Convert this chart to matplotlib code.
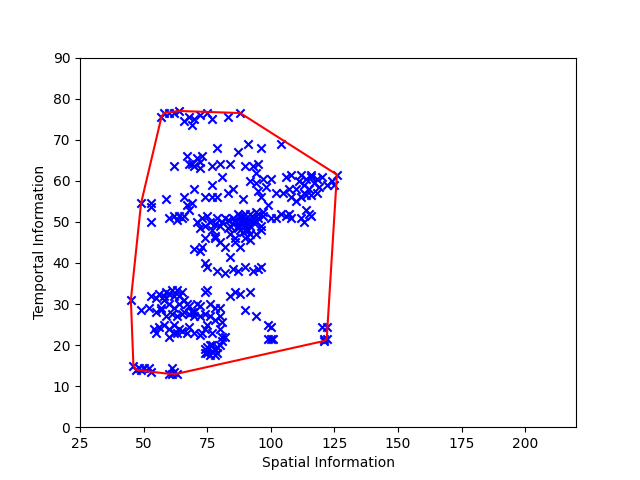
import numpy as np
import matplotlib
matplotlib.use("Agg")
import matplotlib.pyplot as plt

# -------- data --------
spatial = [
    57, 58, 60, 62, 64, 66, 68, 69, 70, 72, 75, 77, 83, 88,
    62, 67, 68, 70, 71, 72, 72, 69, 73, 77, 80, 79, 81, 84, 87, 90, 91, 93, 94, 95, 96,
    92, 94, 97, 100, 104, 98, 95, 96, 77, 70, 66, 59, 74, 77, 79, 83, 85, 89,
    49, 53, 53, 53, 60, 62, 64, 65, 63, 66, 68, 67, 69, 71, 72, 73, 74, 75, 76, 77, 78,
    79, 80, 81, 82, 83, 84, 85, 86, 87, 88, 89, 90, 91, 92, 93, 94, 95, 96, 97, 99, 100, 102,
    84, 86, 88, 90, 92, 94, 96, 78, 80, 74, 72, 70, 73, 74, 75, 78, 82, 84, 86, 88,
    85, 87, 90, 95, 96, 93, 82, 79,
    86, 87, 88, 89, 90, 91, 92, 93, 94, 89, 90, 91, 92, 87, 85, 83, 95, 97,
    106, 108, 111, 112, 113, 114, 115, 116, 117, 118, 119, 120, 122, 124, 126, 125,
    118, 116, 113, 110, 107, 105, 108, 110, 112, 114, 102, 104, 106, 107, 108, 112,
    114, 115, 116, 113, 116,
    45, 49, 52, 53, 55, 56, 58, 58, 59, 60, 61, 62, 63, 64, 65, 57, 60, 62, 64, 66, 67,
    68, 69, 70, 71, 72, 74, 75, 76, 78, 80, 55, 57, 59, 61, 63, 65, 66, 68, 70, 72, 74,
    76, 78, 80, 81, 54, 56, 58, 60, 62, 63, 64, 65, 67, 68, 70, 72, 73, 74, 75, 77, 80,
    60, 62, 81, 81, 90, 92, 94, 88, 86, 84, 82, 55,
    46, 47, 48, 50, 52, 53, 49, 61, 61, 60, 62, 63,
    74, 75, 76, 77, 78, 79, 76, 74, 78, 75, 77, 79, 80,
    99, 100, 100, 101, 99, 120, 121, 122, 122, 121,
]
temporal = [
    75.5, 76.5, 76.5, 76.5, 77, 74.5, 75.5, 73.5, 75, 76, 76.5, 75, 75.5, 76.5,
    63.5, 66, 64, 63.5, 65.5, 64.5, 63, 64, 66, 63.5, 64, 68, 61, 64, 67, 63.5, 69, 63.5, 62, 64, 68,
    60, 59.5, 60.5, 60.5, 69, 58.5, 57.5, 56, 59, 58, 56, 55.5, 56, 56, 56, 57, 58, 55.5,
    54.5, 54.5, 53.5, 50, 51, 51.5, 51.5, 51, 50.5, 51.5, 53, 54, 54.5, 50, 48.5, 51, 49, 51.5, 50, 48, 49.5,
    51, 49, 50, 51, 50.5, 49, 51, 50, 49, 51.5, 50, 49, 48, 52, 50, 52.5, 51, 49, 52.5, 54, 51, 51,
    47, 46, 48, 46, 45.5, 47, 48, 46, 45, 46, 43, 43.5, 44, 40, 39, 46.5, 44, 41.5, 45, 44,
    38.5, 38, 39, 38.5, 39, 38, 37.5, 38,
    50.5, 48.5, 50, 51.5, 52, 50.5, 49, 51, 50, 47.5, 48, 49.5, 47, 52, 49.5, 48.5, 52, 51.5,
    61, 61.5, 60, 61.5, 59, 60.5, 58, 61, 59.5, 60.5, 58.5, 61, 59, 60, 61.5, 59,
    57, 56.5, 57, 58, 58, 57, 56, 55, 56, 56.5, 57, 52, 51.5, 52, 51, 51,
    53, 52, 51.5, 50, 61.5,
    31, 28.5, 29, 32, 31.5, 32.5, 31, 32, 33, 32.5, 33.5, 32, 33.5, 32, 33, 29, 30, 29, 30, 31, 30,
    29.5, 28, 28, 30, 29.5, 33, 33.5, 30, 29, 29, 28, 28.5, 27, 27.5, 27, 27.5, 28, 27.5, 27, 27, 27.5,
    27, 26, 27, 25.5, 24, 24.5, 25, 24, 25, 23, 24, 23.5, 23, 24.5, 23, 22.5, 23, 24, 25, 23, 24,
    22, 23, 22, 21, 28.5, 33, 27, 32.5, 33, 32, 22, 23,
    15, 14, 14.5, 14.5, 14.5, 13.5, 14, 14.5, 13, 13, 13.5, 13,
    18, 19.5, 17.5, 18.5, 19, 18, 20, 19, 17.5, 18, 20, 19.5, 20,
    25, 24.5, 21.5, 21.5, 21.5, 24.5, 21.5, 24.5, 21.5, 21,
]


def convex_hull(xs, ys):
    pts = sorted(set(zip(xs, ys)))

    def cross(o, a, b):
        return (a[0] - o[0]) * (b[1] - o[1]) - (a[1] - o[1]) * (b[0] - o[0])

    lower, upper = [], []
    for p in pts:
        while len(lower) >= 2 and cross(lower[-2], lower[-1], p) <= 0:
            lower.pop()
        lower.append(p)
    for p in reversed(pts):
        while len(upper) >= 2 and cross(upper[-2], upper[-1], p) <= 0:
            upper.pop()
        upper.append(p)
    hull = lower[:-1] + upper[:-1]
    return hull + [hull[0]]


hull = np.array(convex_hull(spatial, temporal))

fig, ax = plt.subplots(figsize=(6.4, 4.8), dpi=100)
ax.scatter(spatial, temporal, marker='x', color='blue')
ax.plot(hull[:, 0], hull[:, 1], color='red')
ax.set_xlim(25, 220)
ax.set_ylim(0, 90)
ax.set_xticks([25, 50, 75, 100, 125, 150, 175, 200])
ax.set_xlabel('Spatial Information')
ax.set_ylabel('Temportal Information')
fig.savefig('out.png')
